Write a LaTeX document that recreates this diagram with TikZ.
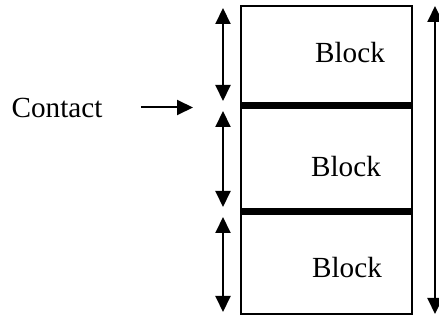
\documentclass[tikz,border=0pt]{standalone}
\usepackage{fontspec}
\setmainfont{Liberation Serif}
\usetikzlibrary{arrows.meta, positioning}

\begin{document}
\begin{tikzpicture}[x=0.5pt, y=-0.5pt, font=\fontsize{14.6}{17}\selectfont, >={Triangle[width=7.5pt,length=8pt]},
  block/.style={draw, line width=0.75pt, minimum width=85.5pt, inner sep=0pt, outer sep=0pt},
  span/.style={<->, line width=1pt},
  joint/.style={line width=3.5pt}]
\useasboundingbox (0,0) rectangle (439,320);
\node[block, minimum height=50pt, anchor=north] (b1) at (326.5,6) {};
\node[block, minimum height=53pt, below=0pt of b1] (b2) {};
\node[block, minimum height=51pt, below=0pt of b2] (b3) {};
\node (t1) at (350,53) {Block};
\node (t2) at (346,167) {Block};
\node (t3) at (347,268) {Block};
\draw[joint] (b1.south west) -- (b1.south east);
\draw[joint] (b2.south west) -- (b2.south east);
% block heights
\draw[span, shorten >=2.5pt, shorten <=1pt] ([xshift=-9pt]b1.north west) -- ([xshift=-9pt]b1.south west);
\draw[span, shorten >=2.5pt, shorten <=2.5pt] ([xshift=-9pt]b2.north west) -- ([xshift=-9pt]b2.south west);
\draw[span, shorten >=1pt, shorten <=2.5pt] ([xshift=-9pt]b3.north west) -- ([xshift=-9pt]b3.south west);
\draw[span] ([xshift=11.5pt]b1.north east) -- ([xshift=11.5pt]b3.south east);
% contact
\node[inner sep=0pt] (ct) at (57,107.5) {Contact};
\coordinate (cp) at (193,107.5);
\draw[->, line width=1pt, shorten <=19pt] (ct) -- (cp);
\end{tikzpicture}
\end{document}
